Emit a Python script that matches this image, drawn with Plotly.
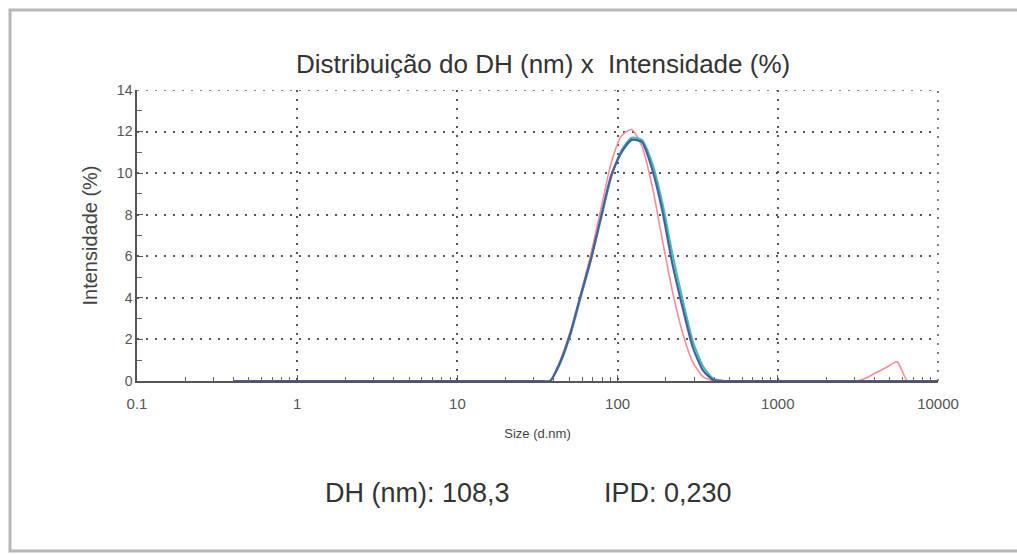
import plotly.graph_objects as go

# Size classes (d.nm) of the distribution
sizes = [0.4, 0.4632, 0.5365, 0.6213, 0.7195, 0.8332, 0.9649, 1.117, 1.294, 1.499,
         1.736, 2.01, 2.328, 2.696, 3.122, 3.615, 4.187, 4.849, 5.615, 6.503,
         7.531, 8.721, 10.1, 11.7, 13.54, 15.69, 18.17, 21.04, 24.36, 28.21,
         32.67, 37.84, 43.82, 50.75, 58.77, 68.06, 78.82, 91.28, 105.7, 122.4,
         141.8, 164.2, 190.1, 220.2, 255.0, 295.3, 342.0, 396.1, 458.7, 531.2,
         615.1, 712.4, 825.0, 955.4, 1106, 1281, 1484, 1718, 1990, 2305,
         2669, 3091, 3580, 4145, 4801, 5560, 6439, 7456, 8635, 10000]

# Intensity (%) per size class, one list per measurement
run_a = [0] * 31 + [0, 1.0, 2.4, 4.2, 6.1, 8.3, 10.5, 11.8, 12.1,
                    11.3, 9.4, 6.8, 4.3, 2.3, 0.9, 0.2, 0, 0, 0,
                    0, 0, 0, 0, 0, 0, 0, 0, 0, 0,
                    0, 0, 0.16, 0.42, 0.67, 0.92, 0, 0, 0, 0]
run_b = [0] * 31 + [0, 0.85, 2.2, 4.0, 5.8, 7.8, 9.8, 11.1, 11.7,
                    11.6, 10.5, 8.6, 6.1, 3.9, 1.9, 0.7, 0.12, 0, 0,
                    0, 0, 0, 0, 0, 0, 0, 0, 0, 0,
                    0, 0, 0, 0, 0, 0, 0, 0, 0, 0]
run_c = [0] * 31 + [0, 0.9, 2.3, 4.1, 5.85, 7.9, 9.9, 11.0, 11.6,
                    11.5, 10.2, 8.2, 5.6, 3.5, 1.6, 0.5, 0.05, 0, 0,
                    0, 0, 0, 0, 0, 0, 0, 0, 0, 0,
                    0, 0, 0, 0, 0, 0, 0, 0, 0, 0]

x_tick_vals = [0.1, 1, 10, 100, 1000, 10000]
x_tick_text = ["0.1", "1", "10", "100", "1000", "10000"]
y_tick_vals = [0, 2, 4, 6, 8, 10, 12, 14]

title_text = "Distribuição do DH (nm) x  Intensidade (%)"
summary_dh = "DH (nm): 108,3"
summary_ipd = "IPD: 0,230"

FONT = "Liberation Sans, Arial, sans-serif"
GRID = dict(color="#555", width=1.5, dash="2px,7px")

fig = go.Figure()
fig.add_trace(go.Scatter(x=sizes, y=run_a, mode="lines",
                         line=dict(color="#f28d9c", width=1.6, shape="spline", smoothing=0.6),
                         showlegend=False))
fig.add_trace(go.Scatter(x=sizes, y=run_b, mode="lines",
                         line=dict(color="#3fbcc0", width=2, shape="spline", smoothing=0.6),
                         showlegend=False))
fig.add_trace(go.Scatter(x=sizes, y=run_c, mode="lines",
                         line=dict(color="#48609a", width=2.2, shape="spline", smoothing=0.6),
                         showlegend=False))

fig.update_layout(
    width=1017, height=554,
    margin=dict(l=137, r=79, t=90, b=173),
    paper_bgcolor="white", plot_bgcolor="white",
    font=dict(family=FONT, color="#444"),
    xaxis=dict(
        type="log", range=[-1, 4],
        tickvals=x_tick_vals, ticktext=x_tick_text,
        tickfont=dict(size=15, color="#555"), ticklabelstandoff=8,
        showline=True, linecolor="#555", linewidth=1.5,
        ticks="inside", ticklen=6, tickcolor="#555",
        showgrid=True, gridcolor=GRID["color"], gridwidth=GRID["width"], griddash=GRID["dash"],
        minor=dict(ticks="inside", ticklen=4, tickcolor="#666", dtick="D1", showgrid=False),
        zeroline=False,
        title=dict(text="Size (d.nm)", font=dict(size=13, color="#444"), standoff=18),
    ),
    yaxis=dict(
        range=[0, 14], tickvals=y_tick_vals,
        tickfont=dict(size=14, color="#555"),
        showline=True, linecolor="#555", linewidth=1.5,
        ticks="inside", ticklen=6, tickcolor="#555",
        showgrid=True, gridcolor=GRID["color"], gridwidth=GRID["width"], griddash=GRID["dash"],
        minor=dict(ticks="inside", ticklen=5, tickcolor="#666", dtick=1, showgrid=False),
        zeroline=False,
        title=dict(text="Intensidade (%)", font=dict(size=20, color="#444"), standoff=14),
    ),
)

# dotted grid lines along the top and right edges of the plot area
fig.add_shape(type="line", xref="paper", yref="y", x0=0, x1=1, y0=14, y1=14,
              line=dict(color=GRID["color"], width=GRID["width"], dash=GRID["dash"]))
fig.add_shape(type="line", xref="paper", yref="y", x0=1, x1=1, y0=0, y1=14,
              line=dict(color=GRID["color"], width=GRID["width"], dash=GRID["dash"]))


def px_x(px):
    return (px - 137) / 801


def px_y(py):
    return (381 - py) / 291


# outer frame: left edge plus top and bottom edges running off to the right
FRAME_COLOR = "#b8b8b8"
fig.add_shape(type="path", xref="paper", yref="paper",
              path=(f"M {px_x(1017):.5f},{px_y(10):.5f} L {px_x(10):.5f},{px_y(10):.5f} "
                    f"L {px_x(10):.5f},{px_y(551):.5f} L {px_x(1017):.5f},{px_y(551):.5f}"),
              line=dict(color=FRAME_COLOR, width=3), layer="below")

fig.add_annotation(text=title_text, xref="paper", yref="paper",
                   x=px_x(543), y=px_y(47),
                   showarrow=False, font=dict(size=26, color="#333"))
fig.add_annotation(text=summary_dh, xref="paper", yref="paper",
                   x=px_x(417), y=px_y(510),
                   showarrow=False, font=dict(size=27, color="#333"))
fig.add_annotation(text=summary_ipd, xref="paper", yref="paper",
                   x=px_x(668), y=px_y(510),
                   showarrow=False, font=dict(size=27, color="#333"))

# keep the page free of scrollbars around the fixed-size figure
page_css = ("document.documentElement.style.overflow='hidden';"
            "document.body.style.overflow='hidden';"
            "document.body.style.margin='0';")
fig.write_html("out.html", post_script=page_css)
